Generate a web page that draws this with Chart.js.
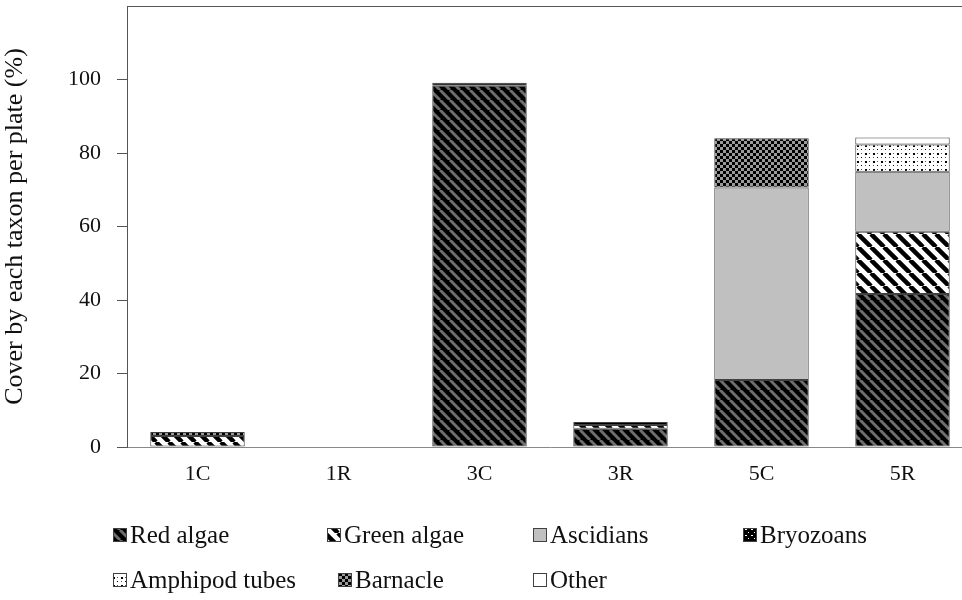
<!DOCTYPE html>
<html>
<head>
<meta charset="utf-8">
<script src="https://cdn.jsdelivr.net/npm/chart.js@4/dist/chart.umd.min.js"></script>
<style>
  html, body { margin: 0; padding: 0; background: #fff; overflow: hidden; }
  #wrap { position: relative; width: 980px; height: 600px; }
</style>
</head>
<body>
<div id="wrap"><canvas id="chart" width="980" height="600"></canvas></div>
<script>
// --- Data ---
const categories = ['1C', '1R', '3C', '3R', '5C', '5R'];
const redAlgae   = [null, null, 98.3, 5.0, 18.2, 41.6];
const greenAlgae = [3.0, null, null, 1.0, null, 17.0];
const ascidians  = [null, null, null, null, 52.4, 16.3];
const bryozoans  = [null, null, 0.8, 0.8, null, null];
const amphipod   = [null, null, null, null, null, 7.4];
const barnacle   = [1.1, null, null, null, 13.4, null];
const other      = [null, null, null, null, null, 1.9];
const seriesNames = ['Red algae', 'Green algae', 'Ascidians', 'Bryozoans', 'Amphipod tubes', 'Barnacle', 'Other'];
const yTicks = [0, 20, 40, 60, 80, 100];

// --- Fill patterns ---
function tile(w, h, draw) {
    const c = document.createElement('canvas');
    c.width = w; c.height = h;
    draw(c.getContext('2d'), w, h);
    return c.getContext('2d').createPattern(c, 'repeat');
}
function diag(bg, fg, size, lw) {
    return tile(size, size, (g, w) => {
        g.fillStyle = bg; g.fillRect(0, 0, w, w);
        g.strokeStyle = fg; g.lineWidth = lw;
        [-w, 0, w].forEach(o => { g.beginPath(); g.moveTo(o, 0); g.lineTo(o + w, w); g.stroke(); });
    });
}
const fills = {
    red: diag('#000', '#6e6e6e', 10, 3),
    green: diag('#fff', '#000', 13, 4.5),
    asc: '#c0c0c0',
    bryo: tile(6, 6, (g) => {
        g.fillStyle = '#000'; g.fillRect(0, 0, 6, 6);
        g.fillStyle = '#fff'; g.fillRect(1, 1, 2, 1); g.fillRect(4, 4, 1, 1);
    }),
    amph: tile(8, 8, (g) => {
        g.fillStyle = '#fff'; g.fillRect(0, 0, 8, 8);
        g.fillStyle = '#000'; g.fillRect(1, 1, 2, 2); g.fillRect(5, 5, 1, 1);
        g.fillStyle = '#555'; g.fillRect(5, 1, 1, 1); g.fillRect(1, 5, 1, 1);
    }),
    barn: tile(6, 6, (g) => {
        g.fillStyle = '#9a9a9a'; g.fillRect(0, 0, 6, 6);
        g.fillStyle = '#000'; g.fillRect(0, 0, 3, 3); g.fillRect(3, 3, 3, 3);
    }),
    other: '#ffffff'
};
const fillList = [fills.red, fills.green, fills.asc, fills.bryo, fills.amph, fills.barn, fills.other];
const valueList = [redAlgae, greenAlgae, ascidians, bryozoans, amphipod, barnacle, other];

const FONT = '"Liberation Serif", "DejaVu Serif", serif';

// top frame line + custom legend laid out in a grid
const framePlugin = {
    id: 'frame',
    afterDraw(chart) {
        const { ctx, chartArea: a } = chart;
        ctx.save();
        ctx.strokeStyle = '#555'; ctx.lineWidth = 1;
        ctx.beginPath(); ctx.moveTo(a.left, a.top + 0.5); ctx.lineTo(a.right, a.top + 0.5); ctx.stroke();

        const cols = [113, 327, 533, 743, 113, 338, 533];
        const rows = [535, 535, 535, 535, 580, 580, 580];
        ctx.font = '25px ' + FONT;
        ctx.textBaseline = 'middle';
        seriesNames.forEach((name, i) => {
            const x = cols[i], y = rows[i];
            ctx.fillStyle = fillList[i];
            ctx.fillRect(x, y - 7, 14, 14);
            ctx.strokeStyle = '#404040';
            ctx.strokeRect(x + 0.5, y - 6.5, 13, 13);
            ctx.fillStyle = '#111';
            ctx.fillText(name, x + 17, y + 1);
        });
        ctx.restore();
    }
};

new Chart(document.getElementById('chart'), {
    type: 'bar',
    data: {
        labels: categories,
        datasets: seriesNames.map((n, i) => ({
            label: n,
            data: valueList[i],
            backgroundColor: fillList[i],
            borderColor: '#404040',
            borderWidth: 1,
            borderSkipped: false,
            categoryPercentage: 1,
            barPercentage: 0.67
        }))
    },
    options: {
        responsive: false,
        animation: false,
        layout: { padding: { top: 6, right: 7, bottom: 113, left: 0 } },
        plugins: { legend: { display: false }, tooltip: { enabled: false } },
        scales: {
            x: {
                stacked: true,
                grid: { display: false },
                border: { display: true, color: '#888', width: 1 },
                ticks: { color: '#111', font: { family: FONT, size: 22 }, padding: 6 },
                afterFit: s => { s.height = 40; s.paddingLeft = 0; s.paddingRight = 0; }
            },
            y: {
                stacked: true,
                min: 0, max: 120,
                afterBuildTicks: s => { s.ticks = yTicks.map(v => ({ value: v })); },
                grid: { drawOnChartArea: false, drawTicks: true, tickLength: 10, color: '#555' },
                border: { display: true, color: '#555', width: 1 },
                ticks: { color: '#111', font: { family: FONT, size: 22 }, padding: 16 },
                title: { display: true, text: 'Cover by each taxon per plate (%)', color: '#111', font: { family: FONT, size: 26 }, padding: 0 },
                afterFit: s => { s.width = 127; s.paddingTop = 0; s.paddingBottom = 0; }
            }
        }
    },
    plugins: [framePlugin]
});
</script>
</body>
</html>
